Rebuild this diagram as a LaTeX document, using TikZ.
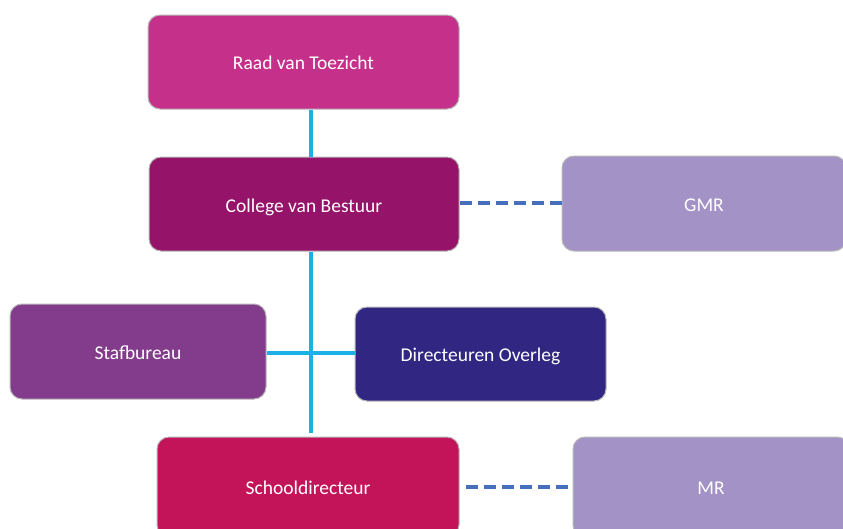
\documentclass[tikz,border=0pt]{standalone}
\usepackage{fontspec}
\setmainfont{Carlito}
\begin{document}
\definecolor{raad}{HTML}{C5318A}
\definecolor{college}{HTML}{951369}
\definecolor{staf}{HTML}{833C8C}
\definecolor{dirov}{HTML}{312782}
\definecolor{school}{HTML}{C3145A}
\definecolor{inspr}{HTML}{A392C5}
\definecolor{tree}{HTML}{1BB1E6}
\definecolor{dash}{HTML}{4670BE}
\begin{tikzpicture}[x=1pt,y=-1pt,
  orgbox/.style={rectangle, rounded corners=12pt, draw=black!28, line width=1pt,
    text=white, font=\fontsize{19.5}{23}\selectfont, inner sep=0pt,
    text height=17pt, text depth=2pt},
  treeline/.style={draw=tree, line width=3.5pt},
  advline/.style={draw=dash, line width=3.5pt, dash pattern=on 12pt off 6pt}]
\clip (0,0) rectangle (843,528);
\fill[white] (0,0) rectangle (843,528);
\node[orgbox, fill=raad, minimum width=311pt, minimum height=94pt] (raad) at (303.5,62) {Raad van Toezicht};
\node[orgbox, fill=college, minimum width=310pt, minimum height=94pt] (cvb) at (304,204) {\raisebox{-0.5pt}{College van Bestuur}};
\node[orgbox, fill=inspr, minimum width=284pt, minimum height=95pt] (gmr) at (704,203.5) {\raisebox{-0.5pt}{GMR}};
\node[orgbox, fill=staf, minimum width=256pt, minimum height=95pt] (staf) at (138,351.5) {Stafbureau};
\node[orgbox, fill=dirov, minimum width=251pt, minimum height=94pt] (dir) at (480.5,354) {Directeuren Overleg};
\node[orgbox, fill=school, minimum width=302pt, minimum height=100pt] (school) at (308,487) {Schooldirecteur};
\node[orgbox, fill=inspr, minimum width=276pt, minimum height=100pt] (mr) at (711,487) {MR};
\coordinate (cross) at (311,353);
\coordinate (schooltop) at (311,433);
\draw[treeline] (raad.south -| cross) -- (cvb.north -| cross);
\draw[treeline] (cvb.south -| cross) -- (schooltop);
\draw[treeline] (staf.east |- cross) -- (dir.west |- cross);
\draw[advline] (cvb.east |- 0,203) -- (gmr.west |- 0,203);
\draw[advline] (466,487) -- (mr.west |- 0,487);
\end{tikzpicture}
\end{document}
